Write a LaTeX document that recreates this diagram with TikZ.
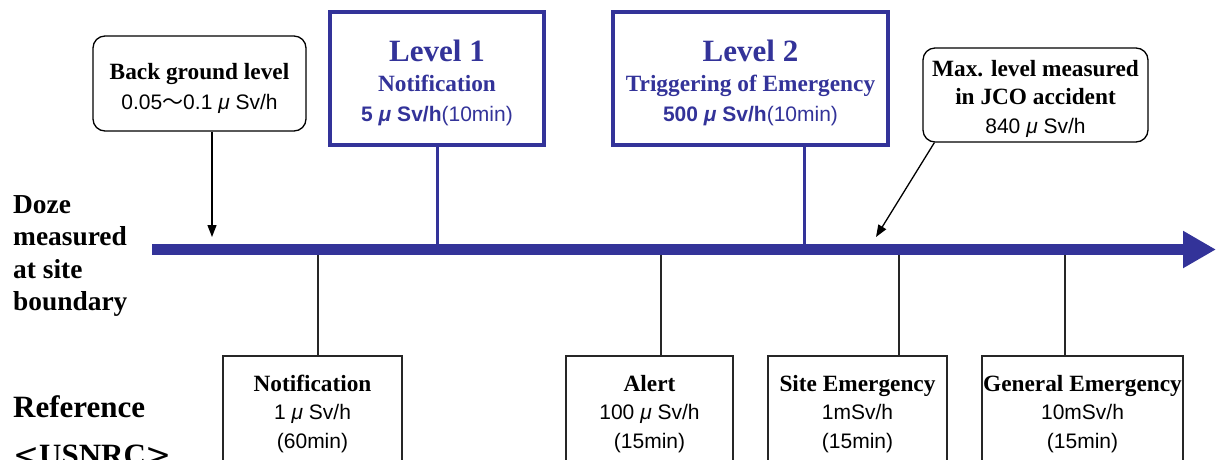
\documentclass[tikz,border=0pt]{standalone}
\usepackage{fontspec}
\setmainfont{Liberation Serif}
\setsansfont{Liberation Sans}
\newfontfamily\jp{Noto Sans CJK JP}
\newfontfamily\dv{DejaVu Sans}
\usetikzlibrary{arrows.meta}
\definecolor{navy}{RGB}{51,51,153}
\newcommand{\mymu}{{\itshape μ}}
\tikzset{
  bt/.style={font=\bfseries\fontsize{23.3}{28}\selectfont, inner sep=0pt, anchor=base},
  big/.style={font=\bfseries\fontsize{31}{36}\selectfont, inner sep=0pt, anchor=base},
  side/.style={font=\bfseries\fontsize{27.4}{32}\selectfont, inner sep=0pt, anchor=base west},
  st/.style={font=\sffamily\fontsize{21}{25}\selectfont, inner sep=0pt, anchor=base},
  rbox/.style={draw=black, line width=1.3pt, rounded corners=12pt, fill=white, inner sep=0pt},
  lvbox/.style={draw=navy, line width=3.5pt, fill=white, inner sep=0pt},
  refbox/.style={draw=black!85, line width=1.3pt, fill=white, inner sep=0pt, minimum height=144pt},
  thin/.style={draw=black!85, line width=1.3pt},
  pointer/.style={draw=black, line width=1.3pt, -{Triangle[length=12pt,width=9pt]}},
  lvline/.style={draw=navy, line width=3pt},
}
\begin{document}
\begin{tikzpicture}[x=1pt,y=-1pt]
\useasboundingbox (0,0) rectangle (1216,459);
\clip (0,0) rectangle (1216,459);

% axis
\coordinate (axL) at (152,249.5);
\coordinate (axR) at (1216,249.5);

% connector foot points on axis
\coordinate (f1) at (318,249.5);
\coordinate (f2) at (661,249.5);
\coordinate (f3) at (899,249.5);
\coordinate (f4) at (1065,249.5);
\coordinate (l1foot) at (437,249.5);
\coordinate (l2foot) at (804,249.5);
\coordinate (bgtip) at (212,237);
\coordinate (jcotip) at (876,237);

% bottom reference boxes
\node[refbox, minimum width=179pt] (rn) at (312.5,428) {};
\node[refbox, minimum width=167pt] (ra) at (649.5,428) {};
\node[refbox, minimum width=179pt] (rs) at (857.5,428) {};
\node[refbox, minimum width=201pt] (rg) at (1082.5,428) {};

\draw[thin] (f1) -- (f1 |- rn.north);
\draw[thin] (f2) -- (f2 |- ra.north);
\draw[thin] (f3) -- (f3 |- rs.north);
\draw[thin] (f4) -- (f4 |- rg.north);

% level boxes
\node[lvbox, minimum width=214pt, minimum height=133pt] (l1) at (437,78.5) {};
\node[lvbox, minimum width=275pt, minimum height=133pt] (l2) at (750.5,78.5) {};
\draw[lvline] (l1.south) -- (l1foot);
\draw[lvline] (l2.south -| l2foot) -- (l2foot);

% main axis
\draw[navy, line width=11pt, -{Triangle[length=33pt,width=35pt]}] (axL) -- (axR);

% background box
\node[rbox, minimum width=213pt, minimum height=95pt] (bg) at (199.5,83.5) {};
\draw[pointer] (bg.south -| bgtip) -- (bgtip);

% JCO box
\node[rbox, minimum width=225pt, minimum height=94pt] (jco) at (1035.5,95) {};
\draw[pointer] ([xshift=12pt]jco.south west) -- (jcotip);

% texts: background
\node[bt] (bgt1) at (199.5,79) {Back ground level};
\node[st] (bgt2) at (199.5,109) {0.05{\jp 〜}0.1 \mymu\ Sv/h};

% level 1
\node[big, text=navy] (l1t1) at (437,61) {Level 1};
\node[bt, text=navy] (l1t2) at (437,91) {Notification};
\node[st, text=navy] (l1t3) at (437,121) {\textbf{5 \mymu\ Sv/h}(10min)};

% level 2
\node[big, text=navy] (l2t1) at (750.5,61) {Level 2};
\node[bt, text=navy] (l2t2) at (750.5,91) {Triggering of Emergency};
\node[st, text=navy] (l2t3) at (750.5,121) {\textbf{500 \mymu\ Sv/h}(10min)};

% JCO
\node[bt] (jt1) at (1035.5,76) {Max. level measured};
\node[bt] (jt2) at (1035.5,104) {in JCO accident};
\node[st] (jt3) at (1035.5,133) {840 \mymu\ Sv/h};

% side labels
\node[side] (s1) at (13,213) {Doze};
\node[side] (s2) at (13,245.5) {measured};
\node[side] (s3) at (13,278) {at site};
\node[side] (s4) at (13,310.5) {boundary};
\node[side, font=\bfseries\fontsize{31}{36}\selectfont] (s5) at (13,417) {Reference};
\node[side, font=\bfseries\fontsize{31}{36}\selectfont] (s6) at (13,465) {{\dv\mdseries <}USNRC{\dv\mdseries >}};

% reference texts
\node[bt] (rn1) at (312.5,391) {Notification};
\node[st] (rn2) at (312.5,419.5) {1 \mymu\ Sv/h};
\node[st] (rn3) at (312.5,448) {(60min)};

\node[bt] (ra1) at (649.5,391) {Alert};
\node[st] (ra2) at (649.5,419.5) {100 \mymu\ Sv/h};
\node[st] (ra3) at (649.5,448) {(15min)};

\node[bt] (rs1) at (857.5,391) {Site Emergency};
\node[st] (rs2) at (857.5,419.5) {1mSv/h};
\node[st] (rs3) at (857.5,448) {(15min)};

\node[bt] (rg1) at (1082.5,391) {General Emergency};
\node[st] (rg2) at (1082.5,419.5) {10mSv/h};
\node[st] (rg3) at (1082.5,448) {(15min)};
\end{tikzpicture}
\end{document}
